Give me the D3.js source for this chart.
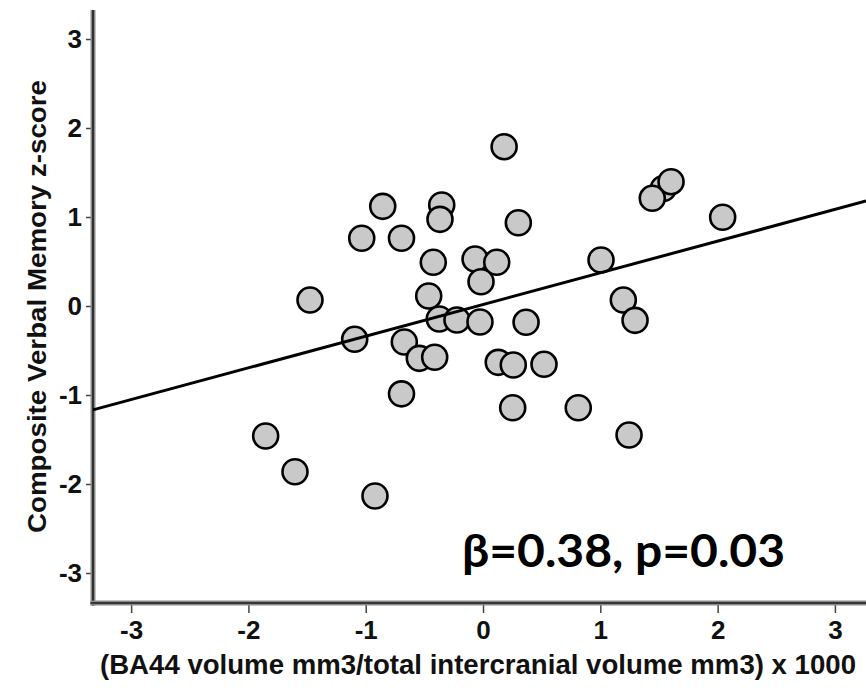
<!DOCTYPE html>
<html>
<head>
<meta charset="utf-8">
<script src="https://cdn.jsdelivr.net/npm/d3@7"></script>
<style>
  body { margin: 0; background: #fff; }
  svg { display: block; }
  .tick text { font-family: "Liberation Sans", Arial, sans-serif; font-weight: bold; font-size: 26px; fill: #111; }
</style>
</head>
<body>
<script>
// scatter data (first point sits hidden behind the 1.4/1.2 pair)
var volumeRatio = [1.537, 0.18, -0.855, -0.352, -0.367, 1.603, 1.443, 0.301, 2.043, -1.034,
  -0.695, -0.424, -0.068, 0.117, -0.017, 1.006, -1.475, -0.463, 1.196, -0.373,
  -0.222, -0.026, 0.367, 1.296, -1.094, -0.671, -0.543, -0.412, 0.13, 0.258,
  0.52, -0.695, 0.253, 0.812, 1.245, -1.853, -1.603, -0.921];
var memoryZ = [1.32, 1.79, 1.12, 1.135, 0.974, 1.397, 1.21, 0.936, 0.997, 0.761,
  0.761, 0.491, 0.528, 0.491, 0.273, 0.517, 0.067, 0.112, 0.067, -0.146,
  -0.157, -0.18, -0.183, -0.161, -0.374, -0.404, -0.588, -0.576, -0.633, -0.663,
  -0.655, -0.987, -1.143, -1.143, -1.449, -1.461, -1.862, -2.135];
var fitLine = {intercept: 0.017, slope: 0.356};
var tickVals = [-3, -2, -1, 0, 1, 2, 3];
var xTitle = "(BA44 volume mm3/total intercranial volume mm3) x 1000";
var yTitle = "Composite Verbal Memory z-score";
var statsText = "\u03B2=0.38, p=0.03";

var W = 866, H = 690;
var plot = {left: 93, right: 866, top: 10, bottom: 603};

var svg = d3.select("body").append("svg")
  .attr("width", W)
  .attr("height", H);

var x = d3.scaleLinear().domain([-3.325, 3.265]).range([plot.left, plot.right]);
var y = d3.scaleLinear().domain([-3.337, 3.326]).range([plot.bottom, plot.top]);

// axes (ticks + labels), domain path drawn by hand below
var yAxis = svg.append("g")
  .attr("transform", "translate(" + plot.left + ",0)")
  .call(d3.axisLeft(y).tickValues(tickVals).tickSize(7).tickPadding(4).tickFormat(d3.format("d")));
var xAxis = svg.append("g")
  .attr("transform", "translate(0," + plot.bottom + ")")
  .call(d3.axisBottom(x).tickValues(tickVals).tickSize(10).tickPadding(8).tickFormat(d3.format("d")));

[yAxis, xAxis].forEach(function(g) {
  g.select(".domain").remove();
  g.selectAll(".tick line").attr("stroke", "#444").attr("stroke-width", 1.5);
});
// d3 uses the unicode minus, the picture has a plain hyphen
svg.selectAll(".tick text").text(function(d) { return d < 0 ? "-" + Math.abs(d) : d; });

// double axis lines
function axisLine(x1, y1, x2, y2) {
  svg.append("line").attr("x1", x1).attr("y1", y1).attr("x2", x2).attr("y2", y2)
    .attr("stroke", "#8a8a8a").attr("stroke-width", 5);
  svg.append("line").attr("x1", x1).attr("y1", y1).attr("x2", x2).attr("y2", y2)
    .attr("stroke", "#1a1a1a").attr("stroke-width", 1.6);
}
axisLine(plot.left, plot.top, plot.left, plot.bottom + 2.5);
axisLine(plot.left - 2.5, plot.bottom, plot.right, plot.bottom);

// points
var pts = volumeRatio.map(function(v, i) { return {x: v, y: memoryZ[i]}; });
svg.append("g").selectAll("circle")
  .data(pts)
  .enter().append("circle")
  .attr("cx", d => x(d.x))
  .attr("cy", d => y(d.y))
  .attr("r", 12.5)
  .attr("fill", "#c9c9c9")
  .attr("stroke", "#000")
  .attr("stroke-width", 2.6);

// fit line over the full x range
var xd = x.domain();
svg.append("line")
  .attr("x1", x(xd[0])).attr("y1", y(fitLine.intercept + fitLine.slope * xd[0]))
  .attr("x2", x(xd[1])).attr("y2", y(fitLine.intercept + fitLine.slope * xd[1]))
  .attr("stroke", "#000")
  .attr("stroke-width", 3);

// titles
svg.append("text")
  .attr("x", 100).attr("y", 674)
  .attr("textLength", 756).attr("lengthAdjust", "spacingAndGlyphs")
  .style("font-family", "'Liberation Sans', Arial, sans-serif")
  .style("font-weight", "bold").style("font-size", "27px").style("fill", "#111")
  .text(xTitle);

svg.append("text")
  .attr("transform", "translate(46,533) rotate(-90)")
  .attr("x", 0).attr("y", 0)
  .attr("textLength", 453).attr("lengthAdjust", "spacingAndGlyphs")
  .style("font-family", "'Liberation Sans', Arial, sans-serif")
  .style("font-weight", "bold").style("font-size", "26px").style("fill", "#111")
  .text(yTitle);

svg.append("text")
  .attr("x", 462).attr("y", 567)
  .attr("textLength", 323).attr("lengthAdjust", "spacingAndGlyphs")
  .style("font-family", "Lato, 'Open Sans', sans-serif")
  .style("font-weight", "bold").style("font-size", "46px").style("fill", "#000")
  .text(statsText);
</script>
</body>
</html>
